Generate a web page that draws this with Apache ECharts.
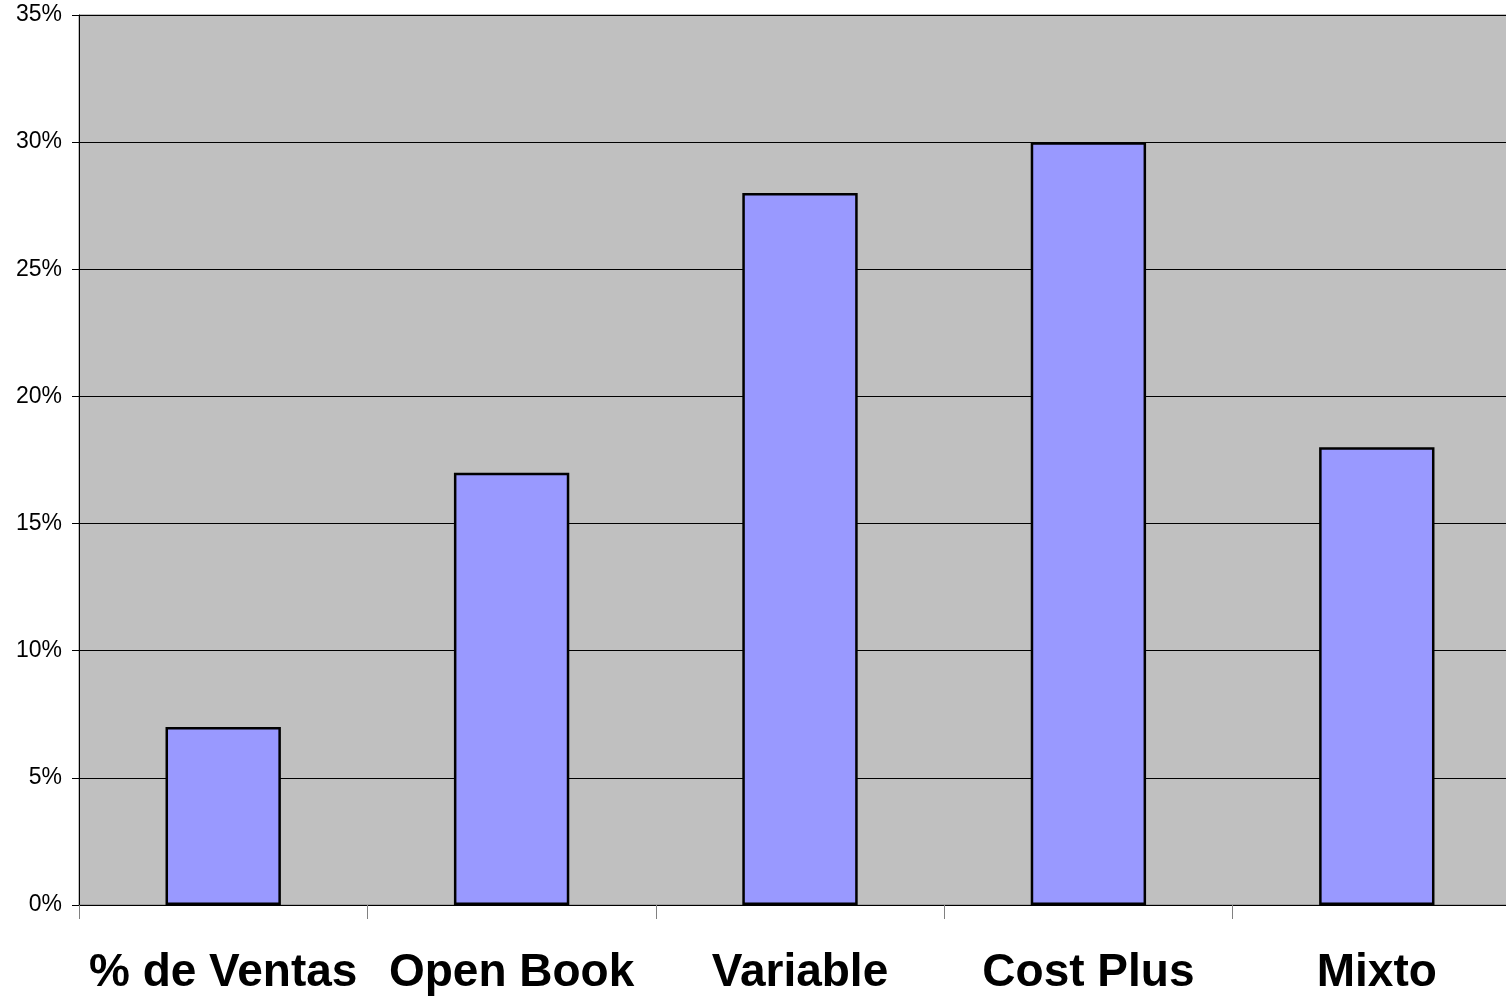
<!DOCTYPE html>
<html><head><meta charset="utf-8">
<script src="https://cdn.jsdelivr.net/npm/echarts@6/dist/echarts.min.js"></script>
<style>html,body{margin:0;padding:0;background:#fff;overflow:hidden}#c{width:1506px;height:996px}</style>
</head><body><div id="c"></div>
<script>
const categories = ['% de Ventas', 'Open Book', 'Variable', 'Cost Plus', 'Mixto'];
const values = [7, 17, 28, 30, 18];
const chart = echarts.init(document.getElementById('c'), null, {renderer: 'canvas'});
chart.setOption({
  animation: false,
  grid: {left: 79, right: -15, top: 15, bottom: 91, outerBoundsMode: 'none', containLabel: false, show: true, backgroundColor: '#c0c0c0', borderColor: '#808080', borderWidth: 1},
  xAxis: {
    type: 'category', data: categories,
    axisLine: {lineStyle: {color: '#000', width: 1}},
    axisTick: {show: true, length: 14, lineStyle: {color: '#808080'}},
    axisLabel: {fontFamily: 'Liberation Sans, Arial', fontWeight: 'bold', fontSize: 46, color: '#000', margin: 45, interval: 0}
  },
  yAxis: {
    type: 'value', min: 0, max: 35, interval: 5,
    axisLine: {show: true, lineStyle: {color: '#000'}},
    axisTick: {show: true, length: 7, lineStyle: {color: '#000'}},
    splitLine: {lineStyle: {color: '#000', width: 1}},
    axisLabel: {formatter: '{value}%', fontFamily: 'Liberation Sans, Arial', fontSize: 23, color: '#000', margin: 17}
  },
  series: [{
    type: 'bar', data: values, barCategoryGap: '60%',
    itemStyle: {color: '#9999ff', borderColor: '#000', borderWidth: 2.5}
  }]
});
</script></body></html>
